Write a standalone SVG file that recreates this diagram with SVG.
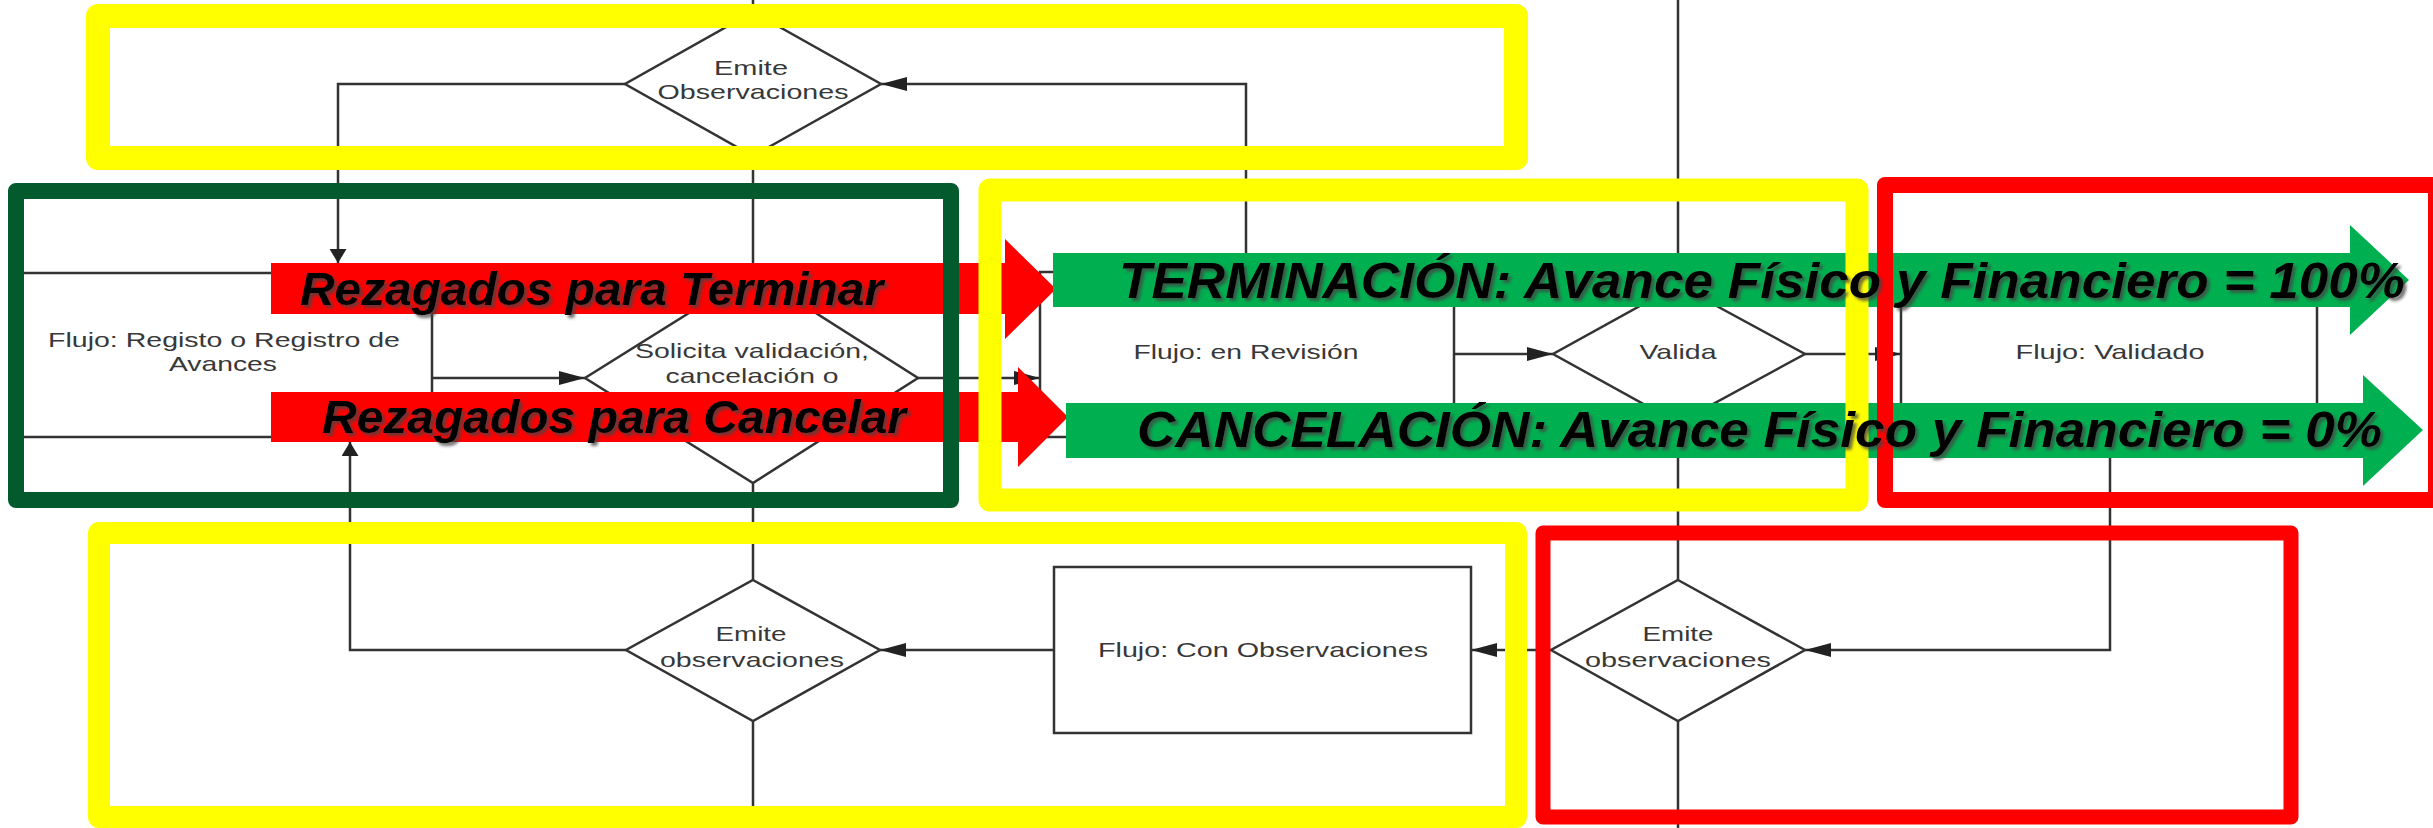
<svg xmlns="http://www.w3.org/2000/svg" width="2433" height="828" viewBox="0 0 2433 828">
<style>
.sh{fill:#fff;stroke:#333;stroke-width:2.5}
.ln{fill:none;stroke:#333;stroke-width:2.5}
.lb{font-family:"Liberation Sans",Arial,sans-serif;font-size:21px;fill:#383838;text-anchor:middle}
.big{font-family:"Liberation Sans",Arial,sans-serif;font-weight:bold;font-style:italic;fill:#000;filter:url(#ds)}
.hl{fill:none;stroke-linejoin:round}
</style>
<defs>
<marker id="ah" markerUnits="userSpaceOnUse" viewBox="0 0 26 14" refX="26" refY="7" markerWidth="26" markerHeight="14" orient="auto"><path d="M0 0L26 7L0 14z" fill="#222"/></marker>
<marker id="av" markerUnits="userSpaceOnUse" viewBox="0 0 14 17" refX="14" refY="8.5" markerWidth="14" markerHeight="17" orient="auto"><path d="M0 0L14 8.5L0 17z" fill="#222"/></marker>
<filter id="ds" x="-5%" y="-30%" width="110%" height="160%"><feDropShadow dx="3" dy="3" stdDeviation="1.5" flood-color="#444" flood-opacity="0.75"/></filter>
</defs>
<rect width="2433" height="828" fill="#fff"/>

<g id="connectors">
<path class="ln" d="M753 0V12M753 156V273M753 483V580M753 721V828"/>
<path class="ln" d="M1678 0V285M1678 423V580M1678 721V828"/>
<path class="ln" d="M1246 272V84H881" marker-end="url(#ah)"/>
<path class="ln" d="M625 84H338V263" marker-end="url(#av)"/>
<path class="ln" d="M432 378H585" marker-end="url(#ah)"/>
<path class="ln" d="M918 378H1040" marker-end="url(#ah)"/>
<path class="ln" d="M1454 354H1553" marker-end="url(#ah)"/>
<path class="ln" d="M1805 354H1901" marker-end="url(#ah)"/>
<path class="ln" d="M2110 437V650H1805" marker-end="url(#ah)"/>
<path class="ln" d="M1551 650H1471" marker-end="url(#ah)"/>
<path class="ln" d="M1054 650H880" marker-end="url(#ah)"/>
<path class="ln" d="M626 650H350V442" marker-end="url(#av)"/>
</g>

<g id="emite-observaciones-top">
<polygon class="sh" points="753,12 881,84 753,156 625,84"/>
<text class="lb" x="751" y="75" textLength="74" lengthAdjust="spacingAndGlyphs">Emite</text>
<text class="lb" x="753" y="99" textLength="191" lengthAdjust="spacingAndGlyphs">Observaciones</text>
</g>
<g id="flujo-registro">
<rect class="sh" x="10" y="273" width="422" height="164"/>
<text class="lb" x="224" y="347" textLength="352" lengthAdjust="spacingAndGlyphs">Flujo: Registo o Registro de</text>
<text class="lb" x="223" y="371" textLength="108" lengthAdjust="spacingAndGlyphs">Avances</text>
</g>
<g id="solicita-validacion">
<polygon class="sh" points="753,273 918,378 753,483 585,378"/>
<text class="lb" x="752" y="358" textLength="234" lengthAdjust="spacingAndGlyphs">Solicita validación,</text>
<text class="lb" x="752" y="383" textLength="173" lengthAdjust="spacingAndGlyphs">cancelación o</text>
</g>
<g id="flujo-en-revision">
<rect class="sh" x="1040" y="272" width="414" height="165"/>
<text class="lb" x="1246" y="359" textLength="225" lengthAdjust="spacingAndGlyphs">Flujo: en Revisión</text>
</g>
<g id="valida">
<polygon class="sh" points="1678,285 1805,354 1678,423 1553,354"/>
<text class="lb" x="1678" y="359" textLength="77" lengthAdjust="spacingAndGlyphs">Valida</text>
</g>
<g id="flujo-validado">
<rect class="sh" x="1901" y="272" width="416" height="165"/>
<text class="lb" x="2110" y="359" textLength="189" lengthAdjust="spacingAndGlyphs">Flujo: Validado</text>
</g>
<g id="emite-observaciones-left">
<polygon class="sh" points="753,580 880,650 753,721 626,650"/>
<text class="lb" x="751" y="641" textLength="71" lengthAdjust="spacingAndGlyphs">Emite</text>
<text class="lb" x="752" y="667" textLength="184" lengthAdjust="spacingAndGlyphs">observaciones</text>
</g>
<g id="flujo-con-observaciones">
<rect class="sh" x="1054" y="567" width="417" height="166"/>
<text class="lb" x="1263" y="657" textLength="330" lengthAdjust="spacingAndGlyphs">Flujo: Con Observaciones</text>
</g>
<g id="emite-observaciones-right">
<polygon class="sh" points="1678,580 1805,650 1678,721 1551,650"/>
<text class="lb" x="1678" y="641" textLength="71" lengthAdjust="spacingAndGlyphs">Emite</text>
<text class="lb" x="1678" y="667" textLength="186" lengthAdjust="spacingAndGlyphs">observaciones</text>
</g>

<g id="arrow-rezagados-terminar-shape"><polygon fill="#ff0000" points="271,263 1005,263 1005,239 1056,289 1005,339 1005,314 271,314"/></g>
<g id="arrow-rezagados-cancelar-shape"><polygon fill="#ff0000" points="271,392 1018,392 1018,367 1068,417 1018,467 1018,442 271,442"/></g>
<g id="arrow-terminacion-shape"><polygon fill="#00b050" points="1053,253 2350,253 2350,225 2409,280 2350,335 2350,307 1053,307"/></g>
<g id="arrow-cancelacion-shape"><polygon fill="#00b050" points="1066,403 2363,403 2363,375 2423,430 2363,486 2363,458 1066,458"/></g>

<g id="highlight-top-yellow"><rect class="hl" x="98" y="16" width="1418" height="142" stroke="#ffff00" stroke-width="24"/></g>
<g id="highlight-dark-green"><rect class="hl" x="16" y="191" width="935" height="309" stroke="#035a2c" stroke-width="16"/></g>
<g id="highlight-middle-yellow"><rect class="hl" x="990" y="190" width="867" height="310" stroke="#ffff00" stroke-width="23"/></g>
<g id="highlight-red-top"><rect class="hl" x="1885" y="185" width="551" height="315" stroke="#ff0000" stroke-width="16"/></g>
<g id="highlight-bottom-yellow"><rect class="hl" x="99" y="533" width="1417" height="284" stroke="#ffff00" stroke-width="22"/></g>
<g id="highlight-red-bottom"><rect class="hl" x="1543" y="533" width="748" height="284" stroke="#ff0000" stroke-width="15"/></g>

<g id="label-rezagados-terminar"><text class="big" x="300" y="305" font-size="46" textLength="583" lengthAdjust="spacingAndGlyphs">Rezagados para Terminar</text></g>
<g id="label-rezagados-cancelar"><text class="big" x="322" y="433" font-size="46" textLength="584" lengthAdjust="spacingAndGlyphs">Rezagados para Cancelar</text></g>
<g id="label-terminacion"><text class="big" x="1119" y="298" font-size="50" textLength="1286" lengthAdjust="spacingAndGlyphs">TERMINACIÓN: Avance Físico y Financiero = 100%</text></g>
<g id="label-cancelacion"><text class="big" x="1137" y="447" font-size="50" textLength="1245" lengthAdjust="spacingAndGlyphs">CANCELACIÓN: Avance Físico y Financiero = 0%</text></g>
</svg>
